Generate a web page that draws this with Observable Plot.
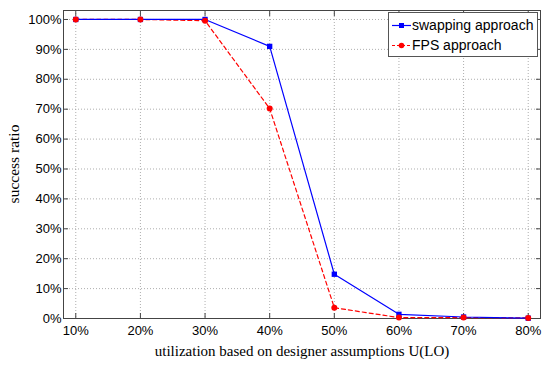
<!DOCTYPE html>
<html>
<head>
<meta charset="utf-8">
<script src="https://cdn.jsdelivr.net/npm/d3@7"></script>
<script src="https://cdn.jsdelivr.net/npm/@observablehq/plot@0.6"></script>
<style>
  body { margin: 0; background: #fff; }
  #wrap { position: relative; width: 542px; height: 369px; }
  #legend { position: absolute; left: 388px; top: 12px; width: 148px; height: 43px;
    background: #fff; border: 1px solid #555; font-family: "Liberation Sans", Arial, sans-serif; font-size: 14px; color: #000; }
  .row { position: absolute; left: 0; height: 20px; display: flex; align-items: center; white-space: nowrap; }
  .row svg { margin-left: 3px; margin-right: 1px; }
</style>
</head>
<body>
<div id="wrap"></div>
<script>
const utilization = [10, 20, 30, 40, 50, 60, 70, 80];
const swapping = [100, 100, 100, 91, 14.8, 1.4, 0.5, 0.1];
const fps = [100, 100, 99.6, 70.2, 3.6, 0.3, 0.3, 0.2];
const seriesNames = ["swapping approach", "FPS approach"];
const xTicks = [10, 20, 30, 40, 50, 60, 70, 80];
const yTicks = [0, 10, 20, 30, 40, 50, 60, 70, 80, 90, 100];

const swapData = utilization.map((u, i) => ({u, v: swapping[i]}));
const fpsData = utilization.map((u, i) => ({u, v: fps[i]}));

const chart = Plot.plot({
  width: 542,
  height: 369,
  marginLeft: 63,
  marginRight: 2,
  marginTop: 10,
  marginBottom: 51,
  style: { fontFamily: "'Liberation Sans', Arial, sans-serif", fontSize: "13px", color: "#000", background: "#fff" },
  x: { type: "linear", domain: [8.1, 81.9] },
  y: { type: "linear", domain: [0, 103] },
  marks: [
    Plot.gridX(xTicks, { stroke: "#999", strokeOpacity: 1, strokeDasharray: "1,2", strokeWidth: 0.8 }),
    Plot.gridY(yTicks, { stroke: "#999", strokeOpacity: 1, strokeDasharray: "1,2", strokeWidth: 0.8 }),
    Plot.frame({ stroke: "#444" }),
    Plot.axisX(xTicks, { anchor: "bottom", tickSize: -5, tickPadding: 12, tickFormat: d => d + "%", label: null, stroke: "#444" }),
    Plot.axisX(xTicks, { anchor: "top", tickSize: -5, tickFormat: () => "", label: null, stroke: "#444" }),
    Plot.axisY(yTicks, { anchor: "left", tickSize: -5, tickPadding: 7, tickFormat: d => d + "%", label: null, stroke: "#444" }),
    Plot.axisY(yTicks, { anchor: "right", tickSize: -5, tickFormat: () => "", label: null, stroke: "#444" }),
    Plot.line(fpsData, { x: "u", y: "v", stroke: "#ff0000", strokeWidth: 1.2, strokeDasharray: "4,3" }),
    Plot.line(swapData, { x: "u", y: "v", stroke: "#0000ff", strokeWidth: 1.2 }),
    Plot.dot(swapData, { x: "u", y: "v", symbol: "square", r: 3, fill: "#0000ff", stroke: "none" }),
    Plot.dot(fpsData, { x: "u", y: "v", symbol: "circle", r: 3, fill: "#ff0000", stroke: "none" })
  ]
});

const wrap = document.getElementById("wrap");
wrap.appendChild(chart);

// axis titles in serif
const svg = d3.select(chart);
svg.append("text")
  .attr("x", 302).attr("y", 356)
  .attr("text-anchor", "middle")
  .style("font-family", "'Liberation Serif', 'Times New Roman', serif")
  .style("font-size", "15px")
  .text("utilization based on designer assumptions U(LO)");
svg.append("text")
  .attr("transform", "translate(19,164) rotate(-90)")
  .attr("text-anchor", "middle")
  .style("font-family", "'Liberation Serif', 'Times New Roman', serif")
  .style("font-size", "15.5px")
  .text("success ratio");

// legend
const legend = document.createElement("div");
legend.id = "legend";
const styles = [
  { color: "#0000ff", dash: null, shape: "square" },
  { color: "#ff0000", dash: "3,2", shape: "circle" }
];
seriesNames.forEach((name, i) => {
  const row = document.createElement("div");
  row.className = "row";
  row.style.top = (2 + i * 20) + "px";
  const s = styles[i];
  const marker = s.shape === "square"
    ? `<rect x="7" y="5" width="5" height="5" fill="${s.color}"/>`
    : `<circle cx="9.5" cy="7.5" r="2.8" fill="${s.color}"/>`;
  row.innerHTML = `<svg width="19" height="15"><line x1="0" x2="19" y1="7.5" y2="7.5" stroke="${s.color}" stroke-width="1.2" ${s.dash ? `stroke-dasharray="${s.dash}"` : ""}/>${marker}</svg><span>${name}</span>`;
  legend.appendChild(row);
});
wrap.appendChild(legend);
</script>
</body>
</html>
